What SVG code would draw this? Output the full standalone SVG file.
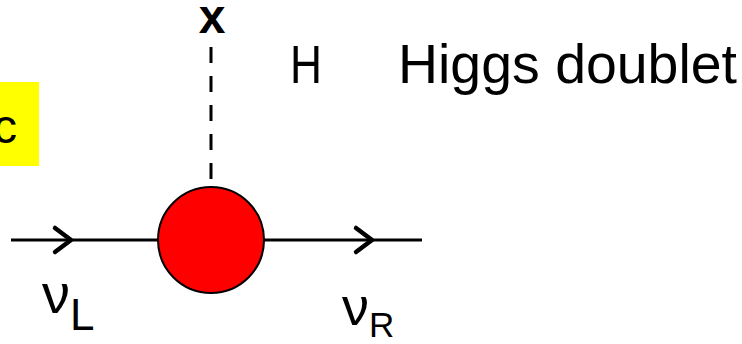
<svg xmlns="http://www.w3.org/2000/svg" width="742" height="344" viewBox="0 0 742 344">
<style>
  text { font-family: "Liberation Sans", "DejaVu Sans", sans-serif; fill: #000; }
  .line { stroke: #000; stroke-width: 3; fill: none; }
  .chev { stroke: #000; stroke-width: 4.5; fill: none; stroke-linecap: round; stroke-linejoin: round; }
</style>
<rect width="742" height="344" fill="#fff"/>
<g id="label-box">
  <rect x="0" y="82" width="39" height="84" fill="#ffff00"/>
  <text x="17" y="143" font-size="48" text-anchor="end">c</text>
</g>
<g id="connectors">
  <line class="line" x1="11" y1="240" x2="422" y2="240"/>
  <polyline class="chev" points="55,228 71,240 55,252"/>
  <polyline class="chev" points="356,228 372,240 356,252"/>
  <line class="line" x1="211" y1="47" x2="211" y2="181" stroke-dasharray="16 13"/>
</g>
<g id="vertex">
  <circle cx="211" cy="240" r="53" fill="#ff0000" stroke="#000" stroke-width="2"/>
</g>
<g id="higgs-end">
  <text x="212" y="33" font-size="48" font-weight="bold" text-anchor="middle">x</text>
</g>
<g id="higgs-label">
  <text x="290" y="83" font-size="53" textLength="32" lengthAdjust="spacingAndGlyphs">H</text>
  <text x="398" y="83" font-size="55" textLength="339" lengthAdjust="spacingAndGlyphs">Higgs doublet</text>
</g>
<g id="nu-L">
  <text x="42" y="313" font-size="56">ν<tspan font-size="44" dy="17">L</tspan></text>
</g>
<g id="nu-R">
  <text x="342" y="325" font-size="54">ν<tspan font-size="35" dy="12">R</tspan></text>
</g>
</svg>
